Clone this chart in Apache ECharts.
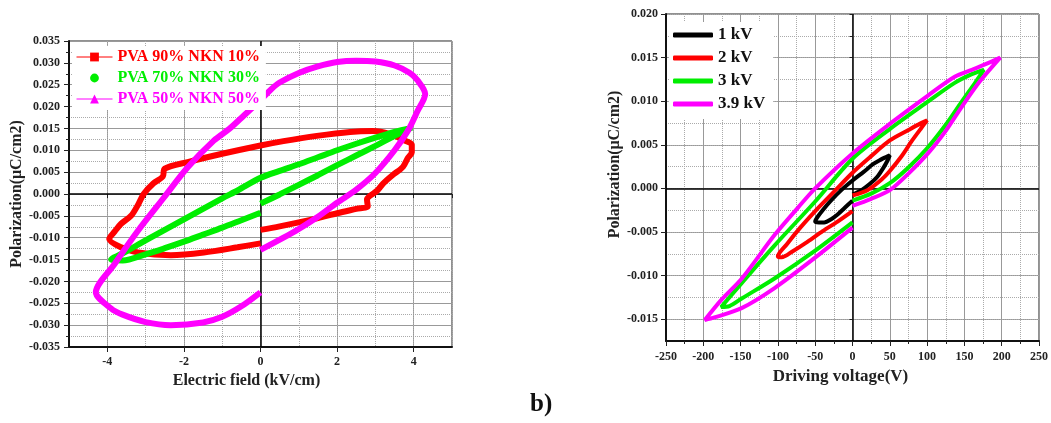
<!DOCTYPE html>
<html>
<head>
<meta charset="utf-8">
<script src="https://cdn.jsdelivr.net/npm/echarts@6/dist/echarts.min.js"></script>
<style>
    html, body {margin: 0; padding: 0; background: #fff;}
    #main {width: 1051px; height: 423px;}
</style>
</head>
<body>
<div id="main"></div>
<script>
// 左图: E (kV/cm), P (uC/cm2)
var pva90 = [[0, -0.0082], [0.5, -0.0074], [1.0, -0.0065], [1.5, -0.0055], [2.0, -0.0044], [2.5, -0.0034], [2.8, -0.0028],
    [2.78, -0.0012], [2.86, -0.0004], [3.05, 0.0008], [3.2, 0.0024], [3.46, 0.0044], [3.72, 0.0062], [3.85, 0.0083],
    [3.95, 0.0095], [3.95, 0.0113], [3.77, 0.0122], [3.38, 0.0137], [2.93, 0.0144], [2.34, 0.0142], [1.47, 0.0133],
    [0.6, 0.0121], [0, 0.0111], [-1.0, 0.0092], [-1.9, 0.0073], [-2.5, 0.0058], [-2.55, 0.0040], [-2.8, 0.0024],
    [-3.05, 0.0], [-3.2, -0.0025], [-3.38, -0.005], [-3.64, -0.0068], [-3.8, -0.0085], [-3.95, -0.0103],
    [-3.64, -0.0122], [-3.2, -0.0134], [-2.34, -0.014], [-1.48, -0.0134], [-0.6, -0.0122], [0, -0.0113]];
var pva70 = [[0, -0.0022], [0.5, -0.0001], [1, 0.0021], [1.5, 0.0043], [2, 0.0066], [2.5, 0.0088], [3, 0.0110],
    [3.5, 0.0133], [3.95, 0.0152], [3.5, 0.0142], [3, 0.0129], [2.5, 0.0115], [2, 0.0100], [1.5, 0.0084], [1, 0.0068],
    [0.5, 0.0053], [0, 0.0037], [-0.6, 0.0008], [-1, -0.0010], [-2, -0.0058], [-3, -0.0106], [-3.5, -0.0131],
    [-3.9, -0.0150], [-3.6, -0.0152], [-3, -0.0138], [-2.5, -0.0124], [-2, -0.0109], [-1.5, -0.0093], [-1, -0.0077],
    [-0.5, -0.0060], [0, -0.0043]];
var pva50 = [[0, -0.0128], [0.6, -0.0100], [1.0, -0.0080], [1.5, -0.0052], [2.0, -0.0020], [2.5, 0.0010],
    [3.0, 0.0048], [3.5, 0.0100], [3.85, 0.0145], [4.1, 0.0190], [4.3, 0.0229], [4.1, 0.0260], [3.9, 0.0277],
    [3.5, 0.0294], [3.0, 0.0303], [2.5, 0.0305], [2.0, 0.0302], [1.5, 0.0292], [1.0, 0.0277], [0.5, 0.0255],
    [0.26, 0.0238], [0, 0.0215], [-0.44, 0.0179], [-0.8, 0.0150], [-1.22, 0.0122], [-1.9, 0.0061], [-2.52, -0.0008],
    [-3.2, -0.0084], [-3.81, -0.0160], [-4.3, -0.0225], [-3.9, -0.0262], [-3.6, -0.0276], [-3, -0.0293],
    [-2.34, -0.0300], [-1.5, -0.0294], [-1.0, -0.0281], [-0.5, -0.0257], [0, -0.0225]];

// 右图: V, P
var kv1 = [[0, -0.0007], [12, -0.0002], [23, 0.0005], [33, 0.0013], [41, 0.0023], [47, 0.0032], [50, 0.0038],
    [45, 0.0036], [38, 0.0033], [28, 0.0028], [15, 0.0019], [0, 0.0009], [-15, -0.0002], [-29, -0.0014],
    [-40, -0.0025], [-47, -0.0033], [-50, -0.0038], [-45, -0.0039], [-38, -0.0039], [-28, -0.0035], [-20, -0.0030],
    [-10, -0.0022], [0, -0.0014]];
var kv2 = [[0, -0.0008], [20, -0.0002], [40, 0.0011], [50, 0.0020], [65, 0.0036], [80, 0.0055], [92, 0.0069],
    [100, 0.0078], [90, 0.0074], [75, 0.0067], [50, 0.0055], [25, 0.0037], [0, 0.0018], [-25, -0.0004],
    [-50, -0.0026], [-70, -0.0045], [-88, -0.0064], [-100, -0.0078], [-95, -0.0079], [-80, -0.0072],
    [-60, -0.0061], [-40, -0.0049], [-20, -0.0038], [0, -0.0026]];
var kv3 = [[0, -0.0014], [25, -0.0006], [50, 0.0006], [75, 0.0024], [100, 0.0046], [125, 0.0073], [146, 0.0099],
    [165, 0.0122], [176, 0.0136], [160, 0.0131], [137, 0.0121], [102, 0.0100], [50, 0.0068], [0, 0.0034],
    [-50, -0.0015], [-104, -0.0065], [-148, -0.0108], [-176, -0.0136], [-165, -0.0135], [-148, -0.0126],
    [-104, -0.0103], [-51, -0.0072], [0, -0.0039]];
var kv39 = [[0, -0.0020], [25, -0.0012], [50, -0.0002], [75, 0.0017], [102, 0.0041], [125, 0.0066], [146, 0.0093],
    [170, 0.0122], [198, 0.0150], [180, 0.0143], [160, 0.0136], [137, 0.0128], [102, 0.0107], [50, 0.0074],
    [0, 0.0040], [-50, 0.0000], [-73, -0.0022], [-104, -0.0053], [-148, -0.0103], [-175, -0.0127], [-198, -0.0151],
    [-185, -0.0148], [-148, -0.0137], [-104, -0.0114], [-51, -0.0080], [0, -0.0045]];

var leftNames = ['PVA 90% NKN 10%', 'PVA 70% NKN 30%', 'PVA 50% NKN 50%'];
var rightNames = ['1 kV', '2 kV', '3 kV', '3.9 kV'];

var myChart = echarts.init(document.getElementById('main'));
var font = 'Liberation Serif';

var labelStyle = {fontFamily: font, fontWeight: 'bold', fontSize: 12, color: '#222'};
var nameStyle = {fontFamily: font, fontWeight: 'bold', fontSize: 16, color: '#222'};
var majorLine = {show: true, lineStyle: {color: '#999', width: 1, type: 'solid'}};
var minorLine = {show: true, lineStyle: {color: '#aaa', width: 1, type: 'dotted'}};
var axisLine = {show: true, onZero: false, lineStyle: {color: '#111', width: 2}};

function zeroLines(xi, yi) {
    return {
        type: 'line', data: [], xAxisIndex: xi, yAxisIndex: yi, z: 1,
        markLine: {
            silent: true, z: 1, animation: false, symbol: ['none', 'none'], label: {show: false},
            lineStyle: {color: '#000', width: 1.5, type: 'solid'},
            data: [{xAxis: 0}, {yAxis: 0}]
        }
    };
}

function loop(name, data, color, width, xi, yi, symbol) {
    return {
        name: name, type: 'line', data: data, xAxisIndex: xi, yAxisIndex: yi,
        symbol: symbol, showSymbol: false, smooth: 0.3, z: 3,
        lineStyle: {color: color, width: width}, itemStyle: {color: color}
    };
}

var option = {
    backgroundColor: '#fff',
    animation: false,
    grid: [
        {left: 69, top: 41, width: 383, height: 306, show: true, borderColor: '#222', borderWidth: 1, backgroundColor: '#fff'},
        {left: 666, top: 14, width: 379, height: 327, show: true, borderColor: '#222', borderWidth: 1, backgroundColor: '#fff'}
    ],
    legend: [
        {
            orient: 'vertical', left: 72, top: 46, itemWidth: 36, itemHeight: 11, itemGap: 5,
            backgroundColor: '#fff', padding: [3, 6, 3, 4],
            lineStyle: {width: 1},
            textStyle: {fontFamily: font, fontWeight: 'bold', fontSize: 16},
            data: [
                {name: leftNames[0], textStyle: {color: '#ff0000'}},
                {name: leftNames[1], textStyle: {color: '#00ee00'}, lineStyle: {opacity: 0}},
                {name: leftNames[2], textStyle: {color: '#ff00ff'}}
            ]
        },
        {
            orient: 'vertical', left: 669, top: 22, itemWidth: 40, itemHeight: 5, itemGap: 5,
            backgroundColor: '#fff', padding: [4, 8, 6, 4], icon: 'roundRect',
            textStyle: {fontFamily: font, fontWeight: 'bold', fontSize: 17, color: '#111', lineHeight: 18},
            data: rightNames
        }
    ],
    xAxis: [
        {
            gridIndex: 0, type: 'value', min: -5, max: 5, splitNumber: 5, position: 'bottom',
            name: 'Electric field (kV/cm)', nameLocation: 'middle', nameGap: 25,
            nameTextStyle: {fontFamily: font, fontWeight: 'bold', fontSize: 16, color: '#222', padding: [0, 28, 0, 0]},
            axisLine: axisLine, axisTick: {show: true, inside: false, length: 5, lineStyle: {color: '#222'}},
            axisLabel: {showMinLabel: false, showMaxLabel: false, margin: 9, textStyle: labelStyle},
            splitLine: majorLine
        },
        {
            gridIndex: 0, type: 'value', min: -5, max: 5, interval: 1, position: 'bottom',
            axisLine: {show: false}, axisLabel: {show: false},
            axisTick: {show: true, length: 4, lineStyle: {color: '#222'}},
            splitLine: minorLine
        },
        {
            gridIndex: 1, type: 'value', min: -250, max: 250, interval: 50, position: 'bottom',
            name: 'Driving voltage(V)', nameLocation: 'middle', nameGap: 27,
            nameTextStyle: {fontFamily: font, fontWeight: 'bold', fontSize: 17, color: '#222', padding: [0, 24, 0, 0]},
            axisLine: axisLine, axisTick: {show: true, length: 5, lineStyle: {color: '#222'}},
            minorTick: {show: true, splitNumber: 2, length: 3, lineStyle: {color: '#222'}},
            axisLabel: {margin: 10, textStyle: labelStyle},
            splitLine: majorLine, minorSplitLine: minorLine
        }
    ],
    yAxis: [
        {
            gridIndex: 0, type: 'value', min: -0.035, max: 0.035, interval: 0.005,
            name: 'Polarization(\u03bcC/cm2)', nameLocation: 'middle', nameGap: 42,
            nameTextStyle: nameStyle,
            axisLine: axisLine, axisTick: {show: true, length: 5, lineStyle: {color: '#222'}},
            minorTick: {show: true, splitNumber: 2, length: 3, lineStyle: {color: '#222'}},
            axisLabel: {margin: 9, textStyle: labelStyle, formatter: function (v) { return v.toFixed(3); }},
            splitLine: majorLine, minorSplitLine: minorLine
        },
        {
            gridIndex: 1, type: 'value', min: -0.0175, max: 0.02, splitNumber: 7, position: 'left',
            name: 'Polarization(\u03bcC/cm2)', nameLocation: 'middle', nameGap: 31,
            nameTextStyle: {fontFamily: font, fontWeight: 'bold', fontSize: 16, color: '#222', padding: [0, 0, 0, 26]},
            axisLine: axisLine, axisTick: {show: true, length: 5, lineStyle: {color: '#222'}},
            axisLabel: {showMinLabel: false, margin: 8, textStyle: labelStyle, formatter: function (v) { return v.toFixed(3); }},
            splitLine: majorLine
        },
        {
            gridIndex: 1, type: 'value', min: -0.0175, max: 0.02, interval: 0.0025, position: 'left',
            axisLine: {show: false}, axisLabel: {show: false},
            axisTick: {show: true, length: 3, lineStyle: {color: '#222'}},
            splitLine: minorLine
        }
    ],
    graphic: [
        {type: 'text', left: 530, top: 392, style: {text: 'b)', font: 'bold 25px "Liberation Serif"', fill: '#111'}}
    ],
    series: [
        zeroLines(0, 0),
        loop(leftNames[0], pva90, '#ff0000', 6, 0, 0, 'rect'),
        loop(leftNames[1], pva70, '#00ee00', 6, 0, 0, 'circle'),
        loop(leftNames[2], pva50, '#ff00ff', 6, 0, 0, 'triangle'),
        zeroLines(2, 1),
        loop(rightNames[0], kv1, '#000000', 4, 2, 1, 'none'),
        loop(rightNames[1], kv2, '#ff0000', 4, 2, 1, 'none'),
        loop(rightNames[2], kv3, '#00ee00', 4, 2, 1, 'none'),
        loop(rightNames[3], kv39, '#ff00ff', 4, 2, 1, 'none')
    ]
};

myChart.setOption(option);
</script>
</body>
</html>
